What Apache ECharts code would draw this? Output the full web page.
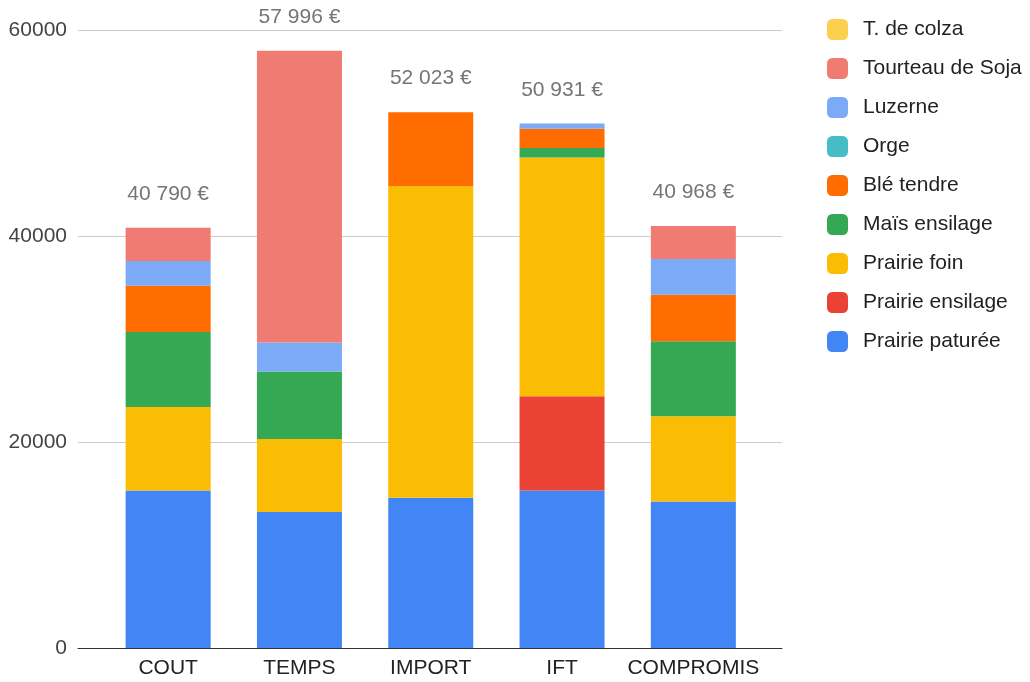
<!DOCTYPE html>
<html>
<head>
<meta charset="utf-8">
<script src="https://cdn.jsdelivr.net/npm/echarts@6/dist/echarts.min.js"></script>
<style>
html,body{margin:0;padding:0;background:#fff;}
#chart{width:1030px;height:682px;}
</style>
</head>
<body>
<div id="chart"></div>
<script>
var categories = ['COUT', 'TEMPS', 'IMPORT', 'IFT', 'COMPROMIS'];
var seriesNames = ['Prairie paturée', 'Prairie ensilage', 'Prairie foin', 'Maïs ensilage', 'Blé tendre', 'Orge', 'Luzerne', 'Tourteau de Soja', 'T. de colza'];
var prairiePaturee  = [15295, 13192, 14580, 15295, 14230];
var prairieEnsilage = [0, 0, 0, 9149, 0];
var prairieFoin     = [8113, 7110, 30263, 23183, 8274];
var maisEnsilage    = [7275, 6538, 0, 906, 7275];
var bleTendre       = [4499, 0, 7180, 1876, 4527];
var orge            = [0, 0, 0, 0, 0];
var luzerne         = [2386, 2813, 0, 522, 3456];
var tourteauSoja    = [3222, 28343, 0, 0, 3206];
var tColza          = [0, 0, 0, 0, 0];
var totals          = [40790, 57996, 52023, 50931, 40968];
var yTicks          = [0, 20000, 40000, 60000];

var colors = ['#4285F4', '#EA4335', '#FBBC04', '#34A853', '#FF6D01', '#46BDC6', '#7BAAF7', '#F07B72', '#FCD04F'];
var seriesData = [prairiePaturee, prairieEnsilage, prairieFoin, maisEnsilage, bleTendre, orge, luzerne, tourteauSoja, tColza];

function fmt(v){ return String(v).replace(/\B(?=(\d{3})+(?!\d))/g, ' ') + ' €'; }

var FONT = 'Arial, "Liberation Sans", sans-serif';
var FS = 21;
var series = seriesNames.map(function(n, i){
  return {
    name: n, type: 'bar', stack: 'total', xAxisIndex: 1, yAxisIndex: 1,
    barWidth: 85, barGap: '-100%',
    itemStyle: { color: colors[i] },
    data: seriesData[i]
  };
});
series.push({
  name: 'Total', type: 'bar', xAxisIndex: 1, yAxisIndex: 1,
  barWidth: 85, barGap: '-100%', silent: true,
  itemStyle: { color: 'rgba(0,0,0,0)' },
  label: { show: true, position: 'top', distance: 23, color: '#757575', fontSize: FS, fontFamily: FONT,
    formatter: function(p){ return fmt(p.value); } },
  data: totals, z: 1
});

var chart = echarts.init(document.getElementById('chart'));
chart.setOption({
  animation: false,
  textStyle: { fontFamily: FONT },
  grid: [
    { left: 78, right: 248, top: 30, bottom: 34 },
    { left: 102.5, right: 271, top: 30, bottom: 34 }
  ],
  legend: {
    orient: 'vertical', left: 822, top: 14,
    itemWidth: 21, itemHeight: 21, itemGap: 18, icon: 'roundRect',
    textStyle: { fontSize: FS, lineHeight: 21, color: '#222', fontFamily: FONT, padding: [0,0,0,10] },
    data: seriesNames.slice().reverse()
  },
  xAxis: [
    { gridIndex: 0, type: 'value', min: 0, max: 1, show: true,
      axisLine: { show: true, onZero: false, lineStyle: { color: '#333', width: 1 } },
      axisTick: { show: false }, axisLabel: { show: false }, splitLine: { show: false } },
    { gridIndex: 1, type: 'category', data: categories,
      axisLine: { show: false }, axisTick: { show: false },
      axisLabel: { interval: 0, color: '#222', fontSize: FS, margin: 10, fontFamily: FONT } }
  ],
  yAxis: [
    { gridIndex: 0, type: 'value', min: yTicks[0], max: yTicks[yTicks.length-1], interval: yTicks[1]-yTicks[0],
      axisLine: { show: false }, axisTick: { show: false },
      axisLabel: { color: '#444', fontSize: FS, margin: 11, fontFamily: FONT, formatter: function(v){ return String(v); } },
      splitLine: { lineStyle: { color: '#cccccc' } } },
    { gridIndex: 1, type: 'value', min: yTicks[0], max: yTicks[yTicks.length-1], interval: yTicks[1]-yTicks[0],
      show: false, splitLine: { show: false } }
  ],
  series: series
});
</script>
</body>
</html>
